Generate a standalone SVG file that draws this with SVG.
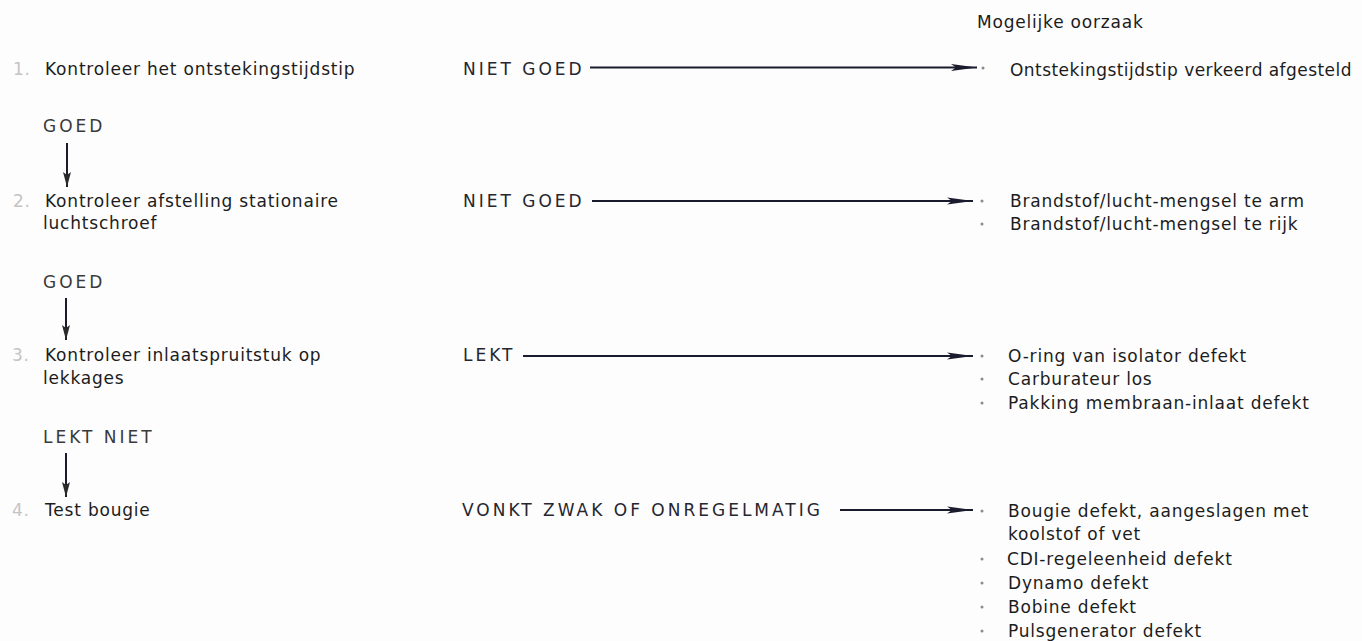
<svg xmlns="http://www.w3.org/2000/svg" width="1362" height="641" viewBox="0 0 1362 641">
<defs>
<style>
text{font-family:"DejaVu Sans","Liberation Sans",sans-serif;font-size:17px;fill:#1c1c1c;letter-spacing:0.8px}
.caps{letter-spacing:3px;fill:#262630}
.cap2{letter-spacing:3px;fill:#3a3a3a}
.num{fill:#c4c4c4}
.tight{letter-spacing:0.45px}
.conn{stroke:#1b1b2e;stroke-width:2;fill:none}
.bul{fill:#8a8a8a}
</style>
<marker id="ah" markerUnits="userSpaceOnUse" markerWidth="28" markerHeight="9" refX="26" refY="4" orient="auto">
<path d="M0,0.5 L26,4 L0,7.5 L5,4 Z" fill="#1b1b2e"/>
</marker>
<marker id="av" markerUnits="userSpaceOnUse" markerWidth="16" markerHeight="9" refX="15" refY="4" orient="auto">
<path d="M0,0 L15,4 L0,8 L3,4 Z" fill="#2a2a2a"/>
</marker>
</defs>
<rect width="1362" height="641" fill="#fdfdfd"/>
<g id="header"><text x="977" y="28">Mogelijke oorzaak</text></g>
<g id="step1"><text class="num" x="13" y="75">1.</text><text x="45" y="75">Kontroleer het ontstekingstijdstip</text></g>
<g id="step2"><text class="num" x="13" y="207">2.</text><text x="45" y="207">Kontroleer afstelling stationaire</text><text x="43" y="229">luchtschroef</text></g>
<g id="step3"><text class="num" x="12" y="361">3.</text><text x="45" y="361">Kontroleer inlaatspruitstuk op</text><text x="43" y="384">lekkages</text></g>
<g id="step4"><text class="num" x="12" y="516">4.</text><text x="45" y="516">Test bougie</text></g>
<g id="label-goed1"><text class="cap2" x="43" y="132">GOED</text></g>
<g id="label-goed2"><text class="cap2" x="43" y="288">GOED</text></g>
<g id="label-lektniet"><text class="cap2" x="43" y="443">LEKT NIET</text></g>
<g id="label-nietgoed1"><text class="caps" x="463" y="75">NIET GOED</text></g>
<g id="label-nietgoed2"><text class="caps" x="463" y="207">NIET GOED</text></g>
<g id="label-lekt"><text class="caps" x="463" y="361">LEKT</text></g>
<g id="label-vonkt"><text class="caps" x="462" y="516">VONKT ZWAK OF ONREGELMATIG</text></g>
<g id="cause1"><circle class="bul" cx="983" cy="68" r="1.5"/><text class="tight" x="1010" y="76">Ontstekingstijdstip verkeerd afgesteld</text></g>
<g id="cause2"><circle class="bul" cx="982" cy="201" r="1.5"/><circle class="bul" cx="982" cy="224" r="1.5"/><text x="1010" y="207">Brandstof/lucht-mengsel te arm</text><text x="1010" y="230">Brandstof/lucht-mengsel te rijk</text></g>
<g id="cause3"><circle class="bul" cx="982" cy="356" r="1.5"/><circle class="bul" cx="982" cy="379" r="1.5"/><circle class="bul" cx="982" cy="403" r="1.5"/><text x="1008" y="362">O-ring van isolator defekt</text><text x="1008" y="385">Carburateur los</text><text x="1008" y="409">Pakking membraan-inlaat defekt</text></g>
<g id="cause4"><circle class="bul" cx="982" cy="511" r="1.5"/><circle class="bul" cx="982" cy="559" r="1.5"/><circle class="bul" cx="982" cy="583" r="1.5"/><circle class="bul" cx="982" cy="607" r="1.5"/><circle class="bul" cx="982" cy="631" r="1.5"/><text x="1008" y="517">Bougie defekt, aangeslagen met</text><text x="1008" y="540">koolstof of vet</text><text x="1007" y="565">CDI-regeleenheid defekt</text><text x="1008" y="589">Dynamo defekt</text><text x="1008" y="613">Bobine defekt</text><text x="1008" y="637">Pulsgenerator defekt</text></g>
<g id="connectors">
<line class="conn" x1="590" y1="67.5" x2="977" y2="67.5" marker-end="url(#ah)"/>
<line class="conn" x1="592" y1="201" x2="973" y2="201" marker-end="url(#ah)"/>
<line class="conn" x1="523" y1="356" x2="973" y2="356" marker-end="url(#ah)"/>
<line class="conn" x1="840" y1="510" x2="973" y2="510" marker-end="url(#ah)"/>
<line class="conn" x1="67" y1="143" x2="67" y2="187" stroke="#2a2a2a" stroke-width="1.6" marker-end="url(#av)"/>
<line class="conn" x1="66" y1="298" x2="66" y2="340" stroke="#2a2a2a" stroke-width="1.6" marker-end="url(#av)"/>
<line class="conn" x1="66" y1="453" x2="66" y2="497" stroke="#2a2a2a" stroke-width="1.6" marker-end="url(#av)"/>
</g>
</svg>
